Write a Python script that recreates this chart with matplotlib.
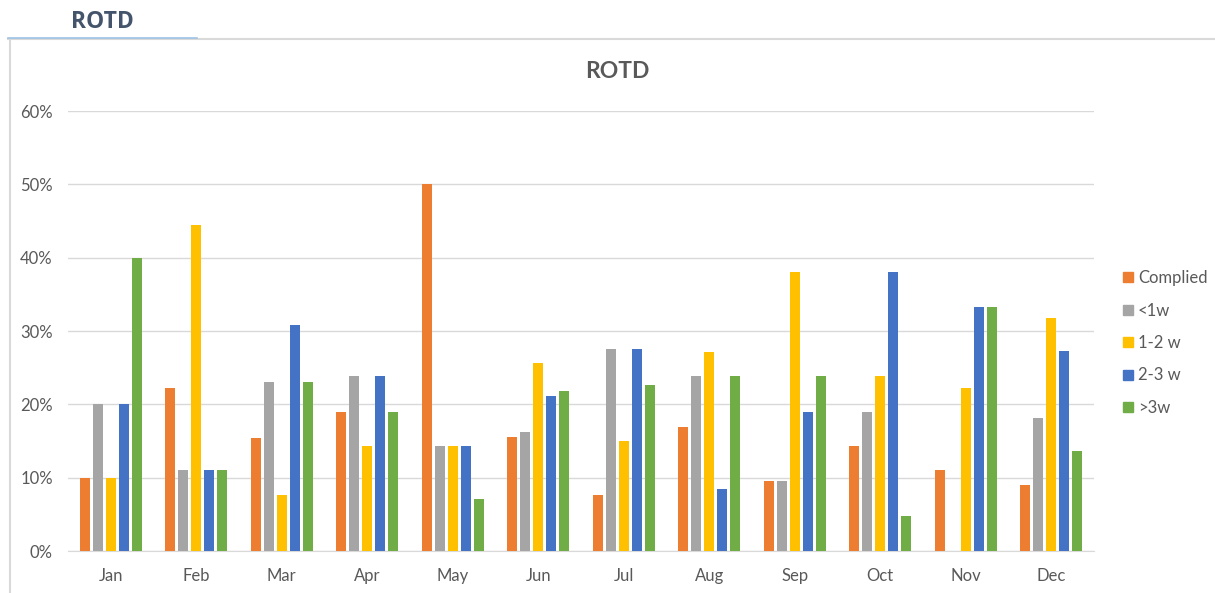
import matplotlib
matplotlib.use("Agg")
import matplotlib.pyplot as plt
import numpy as np
from matplotlib.lines import Line2D
from matplotlib.ticker import PercentFormatter

months = ["Jan", "Feb", "Mar", "Apr", "May", "Jun", "Jul", "Aug", "Sep", "Oct", "Nov", "Dec"]
series_names = ["Complied", "<1w", "1-2 w", "2-3 w", ">3w"]
complied = [10.0, 22.2, 15.4, 19.0, 50.0, 15.5, 7.6, 16.9, 9.5, 14.3, 11.1, 9.0]
lt_1w    = [20.0, 11.1, 23.1, 23.8, 14.3, 16.2, 27.6, 23.8, 9.5, 19.0, 0.0, 18.2]
w1_2     = [10.0, 44.4, 7.7, 14.3, 14.3, 25.6, 15.0, 27.2, 38.1, 23.8, 22.2, 31.8]
w2_3     = [20.0, 11.1, 30.8, 23.8, 14.3, 21.2, 27.6, 8.4, 19.0, 38.1, 33.3, 27.3]
gt_3w    = [40.0, 11.1, 23.1, 19.0, 7.1, 21.8, 22.6, 23.8, 23.8, 4.8, 33.3, 13.6]
colors = ["#ED7D31", "#A5A5A5", "#FFC000", "#4472C4", "#70AD47"]

W, H = 1215, 593
fig = plt.figure(figsize=(W / 100, H / 100), dpi=100)
fig.patch.set_facecolor("white")

font = ["Lato", "DejaVu Sans"]
gray_txt = "#595959"

# outer frame
fig.add_artist(Line2D([8 / W, 1.0], [1 - 39 / H, 1 - 39 / H], color="#D9D9D9", lw=1.5))
fig.add_artist(Line2D([9.5 / W, 9.5 / W], [0, 1 - 39 / H], color="#D9D9D9", lw=1.5))
fig.add_artist(Line2D([8 / W, 197 / W], [1 - 38 / H, 1 - 38 / H], color="#9DC3E6", lw=1.2))
fig.text(71 / W, 1 - 22 / H, "ROTD", fontsize=16.5, fontweight="bold", color="#44546A",
         family=["Open Sans", "DejaVu Sans"], va="center", ha="left")

ax = fig.add_axes([68 / W, 42 / H, 1026 / W, 440 / H])
x = np.arange(len(months))
pitch = 0.152
bw = 0.118
data = [complied, lt_1w, w1_2, w2_3, gt_3w]
for i, (vals, c, name) in enumerate(zip(data, colors, series_names)):
    ax.bar(x + (i - 2) * pitch, np.array(vals) / 100, width=bw, color=c, label=name, zorder=3)

ax.set_xlim(-0.5, len(months) - 0.5)
ax.set_ylim(0, 0.6)
ax.set_yticks(np.arange(0, 0.61, 0.1))
ax.yaxis.set_major_formatter(PercentFormatter(1.0, decimals=0))
ax.set_xticks(x)
ax.set_xticklabels(months)
ax.grid(axis="y", color="#D9D9D9", lw=1, zorder=0)
for s in ["top", "right", "left"]:
    ax.spines[s].set_visible(False)
ax.spines["bottom"].set_color("#D9D9D9")
ax.tick_params(axis="both", length=0, labelsize=12, labelcolor=gray_txt)
ax.tick_params(axis="y", pad=11)
ax.tick_params(axis="x", pad=12)
for lab in ax.get_xticklabels() + ax.get_yticklabels():
    lab.set_family(font)

fig.text(617 / W, 1 - 72 / H, "ROTD", fontsize=16.5, fontweight="bold", color=gray_txt,
         family=font, ha="center", va="center")

handles = [Line2D([], [], marker="s", linestyle="none", markersize=6.5, color=c) for c in colors]
fig.legend(handles, series_names, loc="upper left", bbox_to_anchor=(1108 / W, 1 - 255 / H),
           frameon=False, handlelength=0.6, handletextpad=0.3, labelspacing=0.99,
           prop={"family": font, "size": 12}, labelcolor=gray_txt)

fig.savefig("out.png", dpi=100)
